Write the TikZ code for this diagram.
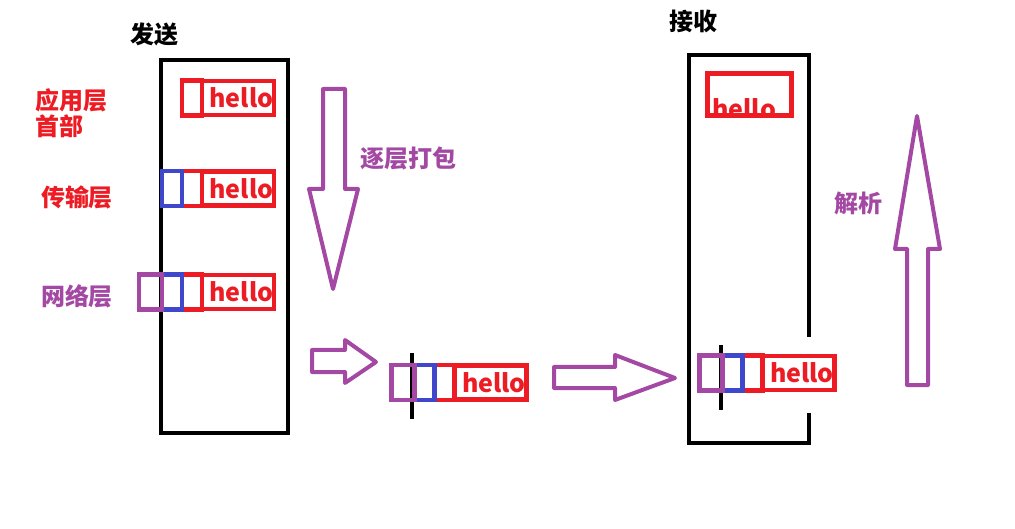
\documentclass[tikz,border=0pt]{standalone}
\usepackage{fontspec}
\setmainfont{Noto Sans CJK SC}
\usepackage{tikz}
\usetikzlibrary{positioning}
\definecolor{pred}{HTML}{ED1C24}
\definecolor{pblue}{HTML}{3F48CC}
\definecolor{ppurple}{HTML}{A349A4}
\begin{document}
\begin{tikzpicture}[x=1pt, y=-1pt,
        frame/.style={draw, line width=4.5pt},
        msg/.style={draw=pred, line width=4.5pt, minimum width=72pt, minimum height=34pt, inner sep=0pt, outer sep=0pt, text=pred, font=\fontsize{25}{25}\selectfont\bfseries},
        hdr/.style={draw=pred, line width=4.5pt, minimum width=20pt, minimum height=35pt, inner sep=0pt, outer sep=0pt, anchor=east},
        tcp/.style={hdr, draw=pblue, minimum width=20pt},
        ip/.style={hdr, draw=ppurple, minimum width=23pt},
        lbl/.style={font=\fontsize{24}{26}\selectfont\bfseries, inner sep=0pt, align=left},
        blk/.style={draw=ppurple, line width=4pt, line join=round}
    ]
        \useasboundingbox (0,0) rectangle (1015,529);
        % Marcos de emisor y receptor
        \draw[frame] (161,60) rectangle (288,433);
        \draw[frame] (809,337) -- (809,55) -- (689,55) -- (689,443) -- (809,443) -- (809,413);
        \draw[frame] (412,353) -- (412,419);
        \draw[frame] (721,345) -- (721,410);
        % Titulos y etiquetas
        \node[lbl] (TS) at (154,34) {发送};
        \node[lbl] (TR) at (693,21) {接收};
        \node[lbl, text=pred, anchor=west] (LA) at (35,113) {应用层\\首部};
        \node[lbl, text=pred] (LT) at (77,197) {传输层};
        \node[lbl, text=ppurple] (LN) at (77,296) {网络层};
        \node[lbl, text=ppurple] (LP) at (408,158) {逐层打包};
        \node[lbl, text=ppurple] (LD) at (858,203) {解析};
        % Paquetes en el emisor
        \node[msg] (M1) at (238,98) {\;hello};
        \node[hdr] (A1) at (M1.west) {};
        \node[msg] (M2) at (238,188.5) {\;hello};
        \node[hdr] (A2) at (M2.west) {};
        \node[tcp] (T2) at (A2.west) {};
        \node[msg] (M3) at (238,292) {\;hello};
        \node[hdr] (A3) at (M3.west) {};
        \node[tcp] (T3) at (A3.west) {};
        \node[ip] (N3) at (T3.west) {};
        % Paquete en transito
        \node[msg] (M4) at (490.5,382.5) {\;hello};
        \node[hdr] (A4) at (M4.west) {};
        \node[tcp] (T4) at (A4.west) {};
        \node[ip] (N4) at (T4.west) {};
        % Paquetes en el receptor
        \node[msg] (M5) at (798.5,373) {\;hello};
        \node[hdr] (A5) at (M5.west) {};
        \node[tcp] (T5) at (A5.west) {};
        \node[ip] (N5) at (T5.west) {};
        \begin{scope}
            \clip (708,74) rectangle (791,115);
            \node[text=pred, font=\fontsize{25}{25}\selectfont\bfseries, inner sep=0pt, anchor=base west] (H0) at (712,119) {hello};
        \end{scope}
        \node[msg, minimum width=84pt, minimum height=42pt] (M0) at (749.5,94.5) {};
        % Flechas de bloque
        \draw[blk] (323,89) -- (345,89) -- (345,189) -- (358,189) -- (333,289) -- (309,189) -- (323,189) -- cycle;
        \draw[blk] (312,350) -- (345,350) -- (345,340) -- (376,362) -- (345,383) -- (345,372) -- (312,372) -- cycle;
        \draw[blk] (554,367) -- (615,367) -- (615,355) -- (675,378) -- (615,400) -- (615,388) -- (554,388) -- cycle;
        \draw[blk] (907,385) -- (928,385) -- (928,249) -- (940,249) -- (917,116) -- (895,249) -- (907,249) -- cycle;
    \end{tikzpicture}
\end{document}
